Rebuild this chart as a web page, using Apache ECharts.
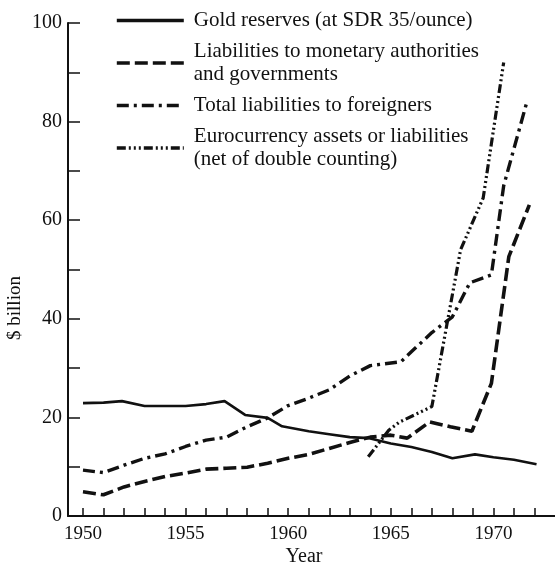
<!DOCTYPE html>
<html><head><meta charset="utf-8">
<script src="https://cdn.jsdelivr.net/npm/echarts@6/dist/echarts.min.js"></script>
<style>html,body{margin:0;padding:0;background:#fff}#c{width:555px;height:569px}</style>
</head><body><div id="c"></div>
<script>
const seriesNames = [
  'Gold reserves (at SDR 35/ounce)',
  'Liabilities to monetary authorities\nand governments',
  'Total liabilities to foreigners',
  'Eurocurrency assets or liabilities\n(net of double counting)'
];
const goldReserves = [[1950,22.9],[1951,23.0],[1951.9,23.3],[1953,22.3],[1954,22.3],[1955,22.3],[1956,22.7],[1956.9,23.3],[1957.9,20.5],[1959,19.9],[1959.7,18.2],[1961,17.2],[1962,16.6],[1963,16.0],[1963.9,15.8],[1965,14.7],[1966,14.0],[1967,13.0],[1968,11.7],[1969.1,12.5],[1970,11.9],[1971,11.4],[1972.1,10.5]];
const monetaryLiabilities = [[1950,4.9],[1951,4.3],[1952,5.9],[1953,7.0],[1954,8.0],[1955,8.7],[1956,9.5],[1957,9.7],[1958,9.9],[1959,10.7],[1960,11.7],[1961,12.5],[1962,13.7],[1963,14.9],[1964,16.0],[1965,16.4],[1965.8,15.8],[1966.9,19.1],[1967.9,18.1],[1968.95,17.2],[1969.9,26.9],[1970.75,52.6],[1971.75,63.1]];
const totalLiabilities = [[1950,9.3],[1951,8.8],[1952,10.3],[1953,11.7],[1954,12.6],[1955,14.1],[1956,15.4],[1957,16.0],[1958,18.1],[1959,19.9],[1960,22.4],[1961,23.9],[1962,25.6],[1963,28.4],[1964,30.5],[1965.5,31.3],[1966,33.3],[1967,37.2],[1968,40.4],[1968.85,47.3],[1969.9,48.9],[1970.5,67],[1971.63,84]];
const eurocurrency = [[1963.9,12.0],[1964.9,17.4],[1965.4,19.0],[1967.0,22.2],[1968.4,54.0],[1969.5,64.5],[1970.5,92]];
const xTickYears = [1950,1951,1952,1953,1954,1955,1956,1957,1958,1959,1960,1961,1962,1963,1964,1965,1966,1967,1968,1969,1970,1971,1972];
const xLabelYears = [1950,1955,1960,1965,1970];
const yLabelValues = [0,20,40,60,80,100];

const ink = '#111';
const serif = '"Liberation Serif", "DejaVu Serif", serif';
const chart = echarts.init(document.getElementById('c'));
chart.setOption({
  animation: false,
  backgroundColor: '#fff',
  grid: {left: 68, right: 0, top: 23, bottom: 53, containLabel: false},
  legend: {
    orient: 'vertical', left: 115, top: 9, padding: 0, itemWidth: 67, itemHeight: 10, itemGap: 8,
    selectedMode: false,
    itemStyle: {opacity: 0},
    lineStyle: {width: 3.6},
    textStyle: {fontFamily: serif, fontSize: 21, lineHeight: 23, color: ink, padding: [0,0,0,5]},
    data: seriesNames
  },
  xAxis: {
    type: 'value', min: 1949.27, max: 1973,
    axisLine: {lineStyle: {color: ink, width: 2}},
    axisTick: {inside: true, length: 8, customValues: xTickYears, lineStyle: {color: ink, width: 1.5}},
    axisLabel: {customValues: xLabelYears, margin: 9, fontFamily: serif, fontSize: 19, color: ink,
                formatter: function (v) { return String(v); }},
    splitLine: {show: false}
  },
  yAxis: {
    type: 'value', min: 0, max: 100, interval: 10,
    axisLine: {show: true, lineStyle: {color: ink, width: 2}},
    axisTick: {show: true, inside: true, length: 12, lineStyle: {color: ink, width: 1.5}},
    axisLabel: {customValues: yLabelValues, margin: 6, fontFamily: serif, fontSize: 20, color: ink,
                formatter: function (v) { return String(v); }},
    splitLine: {show: false}
  },
  graphic: [
    {type: 'text', x: 15, y: 308, rotation: Math.PI / 2,
     style: {text: '$ billion', font: '19px ' + serif, fill: ink, align: 'center', verticalAlign: 'middle', textAlign: 'center', textVerticalAlign: 'middle'}},
    {type: 'text', x: 304, y: 557,
     style: {text: 'Year', font: '20px ' + serif, fill: ink, align: 'center', verticalAlign: 'middle', textAlign: 'center', textVerticalAlign: 'middle'}}
  ],
  series: [
    {name: seriesNames[0], type: 'line', symbol: 'none', data: goldReserves, color: ink,
     lineStyle: {color: ink, width: 2.6, type: 'solid'}},
    {name: seriesNames[1], type: 'line', symbol: 'none', data: monetaryLiabilities, color: ink,
     lineStyle: {color: ink, width: 3.6, type: [13, 5]}},
    {name: seriesNames[2], type: 'line', symbol: 'none', data: totalLiabilities, color: ink,
     lineStyle: {color: ink, width: 3.4, type: [12, 5, 3, 5]}},
    {name: seriesNames[3], type: 'line', symbol: 'none', data: eurocurrency, color: ink,
     lineStyle: {color: ink, width: 3.2, type: [9, 3, 2, 3, 2, 3, 2, 3]}}
  ]
});
</script>
</body></html>
